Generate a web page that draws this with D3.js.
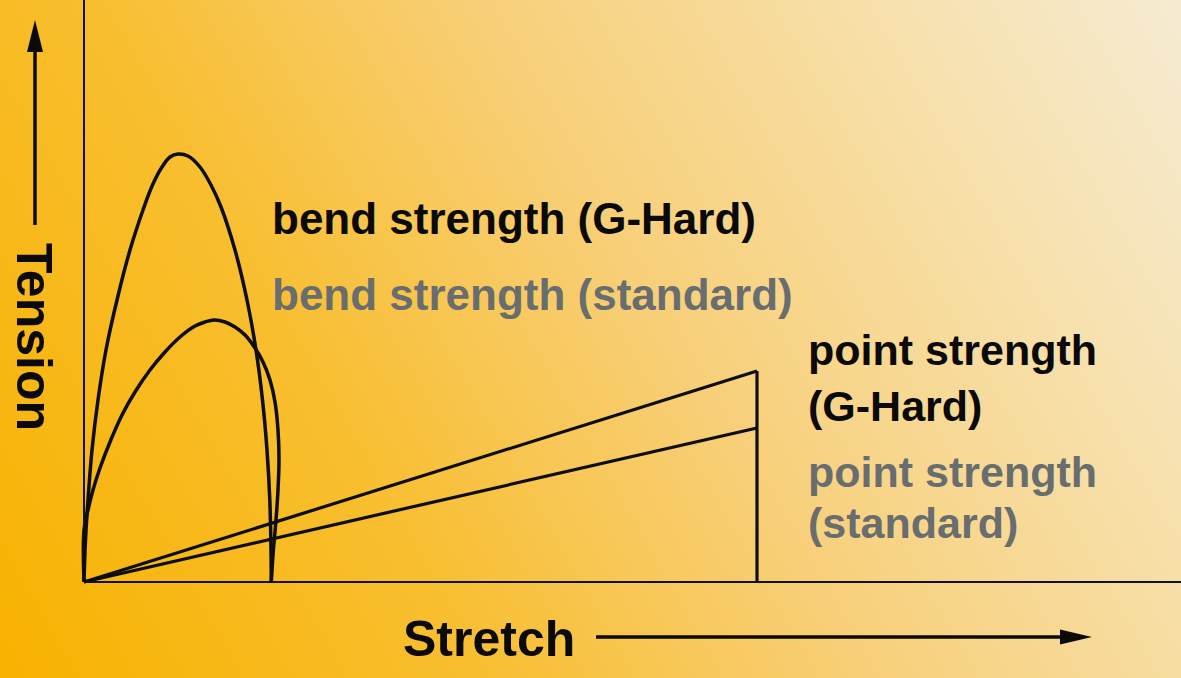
<!DOCTYPE html>
<html>
<head>
<meta charset="utf-8">
<script src="https://cdn.jsdelivr.net/npm/d3@7"></script>
<style>
  html, body { margin: 0; padding: 0; overflow: hidden; }
  svg { display: block; }
  text { font-family: "Liberation Sans", Arial, Helvetica, sans-serif; font-weight: bold; }
</style>
</head>
<body>
<script>
// ---- data (screen-read values in chart pixels, converted by the scales below) ----
// stretch values (x) and tension values (y) for each curve
const bendGHardX = [84, 85.5, 88, 92, 98, 106, 117, 130, 143, 152.5, 162, 170, 178, 188, 200, 211, 221, 235, 247, 256, 262.5, 267, 269.8, 271, 271.3];
const bendGHardY = [582, 540, 500, 450, 400, 350, 300, 250, 210, 185, 167, 157, 154, 156, 167, 185, 207, 250, 300, 350, 400, 450, 500, 550, 582];
const bendStdX = [84, 84, 88, 93, 100, 110, 122, 135, 150, 165, 180, 195, 205, 214, 225, 235, 245, 255, 263, 270, 275, 278, 279, 278, 276, 273, 271.3];
const bendStdY = [582, 530, 510, 490, 468, 442, 415, 392, 370, 352, 337, 326, 322, 320, 322, 327, 335, 348, 362, 380, 402, 430, 460, 490, 520, 555, 582];
const pointGHardX = [84, 757];
const pointGHardY = [582, 371];
const pointStdX = [84, 757];
const pointStdY = [582, 428];
const labelsBlack = ["bend strength (G-Hard)", "point strength", "(G-Hard)"];
const labelsGray = ["bend strength (standard)", "point strength", "(standard)"];
const axisX = "Stretch";
const axisY = "Tension";

const W = 1181, H = 678;
const svg = d3.select("body").append("svg").attr("width", W).attr("height", H);

// background gradient
const defs = svg.append("defs");
const grad = defs.append("linearGradient").attr("id", "bg")
  .attr("gradientUnits", "userSpaceOnUse")
  .attr("x1", 0).attr("y1", H).attr("x2", W).attr("y2", 0);
[[0, "#f8b200"], [0.3, "#f8be2e"], [0.55, "#f8cf78"], [0.8, "#f7e0ab"], [1, "#f6ebd2"]]
  .forEach(([o, c]) => grad.append("stop").attr("offset", o).attr("stop-color", c));
svg.append("rect").attr("width", W).attr("height", H).attr("fill", "url(#bg)");

// scales: stretch / tension in arbitrary units (0 at the origin)
const x = d3.scaleLinear().domain([0, 1097]).range([84, 1181]);
const y = d3.scaleLinear().domain([0, 582]).range([582, 0]);
const toData = (xs, ys) => xs.map((v, i) => [v - 84, 582 - ys[i]]);

const bendGHard = toData(bendGHardX, bendGHardY);
const bendStandard = toData(bendStdX, bendStdY);
const pointGHard = toData(pointGHardX, pointGHardY);
const pointStandard = toData(pointStdX, pointStdY);
const pointDrop = [pointGHard[1], [pointGHard[1][0], 0]];

// axes (plain lines, no ticks)
svg.append("line").attr("x1", x(0)).attr("x2", x(0)).attr("y1", y(582)).attr("y2", y(0))
  .attr("stroke", "#111").attr("stroke-width", 2);
svg.append("line").attr("x1", x(0)).attr("x2", x(1097)).attr("y1", y(0)).attr("y2", y(0))
  .attr("stroke", "#111").attr("stroke-width", 2);

const curve = d3.line().x(d => x(d[0])).y(d => y(d[1])).curve(d3.curveCatmullRom.alpha(0.5));
const straight = d3.line().x(d => x(d[0])).y(d => y(d[1]));

[bendGHard, bendStandard].forEach(data =>
  svg.append("path").attr("d", curve(data)).attr("fill", "none")
    .attr("stroke", "#0d0d0d").attr("stroke-width", 3.5).attr("stroke-linejoin", "round"));
[pointGHard, pointStandard, pointDrop].forEach(data =>
  svg.append("path").attr("d", straight(data)).attr("fill", "none")
    .attr("stroke", "#0d0d0d").attr("stroke-width", 3.2).attr("stroke-linejoin", "miter"));

// labels
const black = "#0a0a0a", gray = "#686d6f";
svg.append("text").attr("x", 272).attr("y", 234).attr("font-size", 44).attr("fill", black).text(labelsBlack[0]);
svg.append("text").attr("x", 272).attr("y", 310).attr("font-size", 44).attr("fill", gray).text(labelsGray[0]);
svg.append("text").attr("x", 808).attr("y", 365).attr("font-size", 43).attr("fill", black).text(labelsBlack[1]);
svg.append("text").attr("x", 808).attr("y", 421).attr("font-size", 43).attr("fill", black).text(labelsBlack[2]);
svg.append("text").attr("x", 808).attr("y", 487).attr("font-size", 43).attr("fill", gray).text(labelsGray[1]);
svg.append("text").attr("x", 808).attr("y", 538).attr("font-size", 43).attr("fill", gray).text(labelsGray[2]);

// axis titles
svg.append("text").attr("x", 403).attr("y", 656).attr("font-size", 50).attr("fill", black).text(axisX);
svg.append("text").attr("transform", "translate(17,243) rotate(90)").attr("font-size", 50).attr("fill", black).text(axisY);

// arrows
svg.append("line").attr("x1", 596).attr("x2", 1062).attr("y1", 637).attr("y2", 637)
  .attr("stroke", "#0a0a0a").attr("stroke-width", 3.5);
svg.append("path").attr("d", "M1060,629.5 L1092,637 L1060,644.5 Z").attr("fill", "#0a0a0a");
svg.append("line").attr("x1", 35).attr("x2", 35).attr("y1", 225).attr("y2", 50)
  .attr("stroke", "#0a0a0a").attr("stroke-width", 3.5);
svg.append("path").attr("d", "M27,52 L35,20 L43,52 Z").attr("fill", "#0a0a0a");
</script>
</body>
</html>
